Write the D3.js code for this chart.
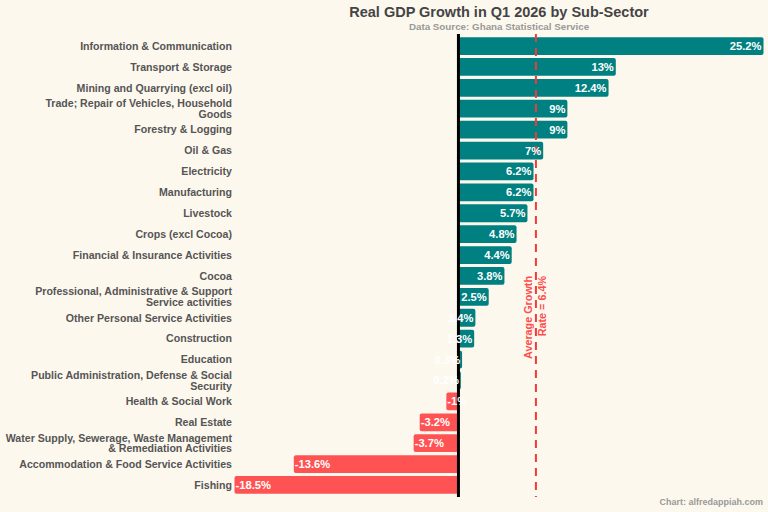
<!DOCTYPE html>
<html>
<head>
<meta charset="utf-8">
<script src="https://cdn.jsdelivr.net/npm/d3@7"></script>
<style>
  html, body { margin: 0; padding: 0; background: #fdf8ee; }
  svg { display: block; font-family: "Liberation Sans", Arial, sans-serif; }
</style>
</head>
<body>
<svg id="chart" width="768" height="512"></svg>
<script>
const categories = [
  "Information & Communication",
  "Transport & Storage",
  "Mining and Quarrying (excl oil)",
  "Trade; Repair of Vehicles, Household|Goods",
  "Forestry & Logging",
  "Oil & Gas",
  "Electricity",
  "Manufacturing",
  "Livestock",
  "Crops (excl Cocoa)",
  "Financial & Insurance Activities",
  "Cocoa",
  "Professional, Administrative & Support|Service activities",
  "Other Personal Service Activities",
  "Construction",
  "Education",
  "Public Administration, Defense & Social|Security",
  "Health & Social Work",
  "Real Estate",
  "Water Supply, Sewerage, Waste Management|& Remediation Activities",
  "Accommodation & Food Service Activities",
  "Fishing"
];
const growth = [25.2, 13, 12.4, 9, 9, 7, 6.2, 6.2, 5.7, 4.8, 4.4, 3.8, 2.5, 1.4, 1.3, 0.3, 0.2, -1, -3.2, -3.7, -13.6, -18.5];
const averageGrowth = [6.4];
const titleText = ["Real GDP Growth in Q1 2026 by Sub-Sector"];
const subtitleText = ["Data Source: Ghana Statistical Service"];
const creditText = ["Chart: alfredappiah.com"];

const svg = d3.select("#chart");
const W = 768, H = 512;
const margin = {left: 234, right: 4, top: 34, bottom: 15};

const data = categories.map((c, i) => ({cat: c, v: growth[i]}));

const x = d3.scaleLinear().domain([-18.5, 25.2]).range([234.5, 763.5]);
const y = d3.scaleBand().domain(categories).range([margin.top, H - margin.bottom]).paddingInner(0.15).paddingOuter(0.15);

const pos = "#008080", neg = "#ff5252";

// title
const cx = (x.range()[0] + x.range()[1]) / 2;
svg.append("text").attr("x", cx).attr("y", 17).attr("text-anchor", "middle")
  .attr("font-size", 14.5).attr("font-weight", "bold").attr("fill", "#444").text(titleText[0]);
svg.append("text").attr("x", cx).attr("y", 29.5).attr("text-anchor", "middle")
  .attr("font-size", 9.8).attr("font-weight", "bold").attr("fill", "#999").text(subtitleText[0]);

// bars
svg.append("g").selectAll("rect").data(data).join("rect")
  .attr("x", d => Math.min(x(0), x(d.v)))
  .attr("y", d => y(d.cat))
  .attr("width", d => Math.abs(x(d.v) - x(0)))
  .attr("height", y.bandwidth())
  .attr("rx", 2)
  .attr("fill", d => d.v >= 0 ? pos : neg);

// average line
const ax = x(averageGrowth[0]);
svg.append("line").attr("x1", ax).attr("x2", ax).attr("y1", margin.top).attr("y2", H - margin.bottom)
  .attr("stroke", "#ee3b3b").attr("stroke-width", 2).attr("stroke-dasharray", "8,6");

// average annotation
const ann = svg.append("text").attr("transform", `translate(${ax},276) rotate(-90)`)
  .attr("text-anchor", "end").attr("font-size", 10.8).attr("font-weight", "bold").attr("fill", "#ff4d4d");
ann.append("tspan").attr("x", 0).attr("y", -4).text("Average Growth");
ann.append("tspan").attr("x", 0).attr("y", 10).text("Rate = " + averageGrowth[0] + "%");

// zero line
svg.append("line").attr("x1", x(0)).attr("x2", x(0)).attr("y1", margin.top).attr("y2", H - margin.bottom)
  .attr("stroke", "#000").attr("stroke-width", 3);

// value labels
svg.append("g").selectAll("text").data(data).join("text")
  .attr("x", d => d.v >= 0 ? x(d.v) - 2 : x(d.v) + 1)
  .attr("y", d => y(d.cat) + y.bandwidth() / 2)
  .attr("dy", "0.36em")
  .attr("text-anchor", d => d.v >= 0 ? "end" : "start")
  .attr("font-size", 11.2).attr("font-weight", "bold").attr("fill", "#fff")
  .text(d => d.v + "%");

// category labels
const lab = svg.append("g").selectAll("text").data(data).join("text")
  .attr("x", 232)
  .attr("y", d => y(d.cat) + y.bandwidth() / 2)
  .attr("text-anchor", "end")
  .attr("font-size", 10.6).attr("font-weight", "bold").attr("fill", "#555");
lab.each(function(d) {
  const parts = d.cat.split("|");
  const t = d3.select(this);
  const n = parts.length;
  parts.forEach((p, i) => {
    t.append("tspan").attr("x", 232)
      .attr("dy", i === 0 ? ((0.36 - (n - 1) * 0.5) + "em") : "1em")
      .text(p);
  });
});

// credit
svg.append("text").attr("x", 763).attr("y", 505).attr("text-anchor", "end")
  .attr("font-size", 9).attr("font-weight", "bold").attr("fill", "#999").text(creditText[0]);
</script>
</body>
</html>
